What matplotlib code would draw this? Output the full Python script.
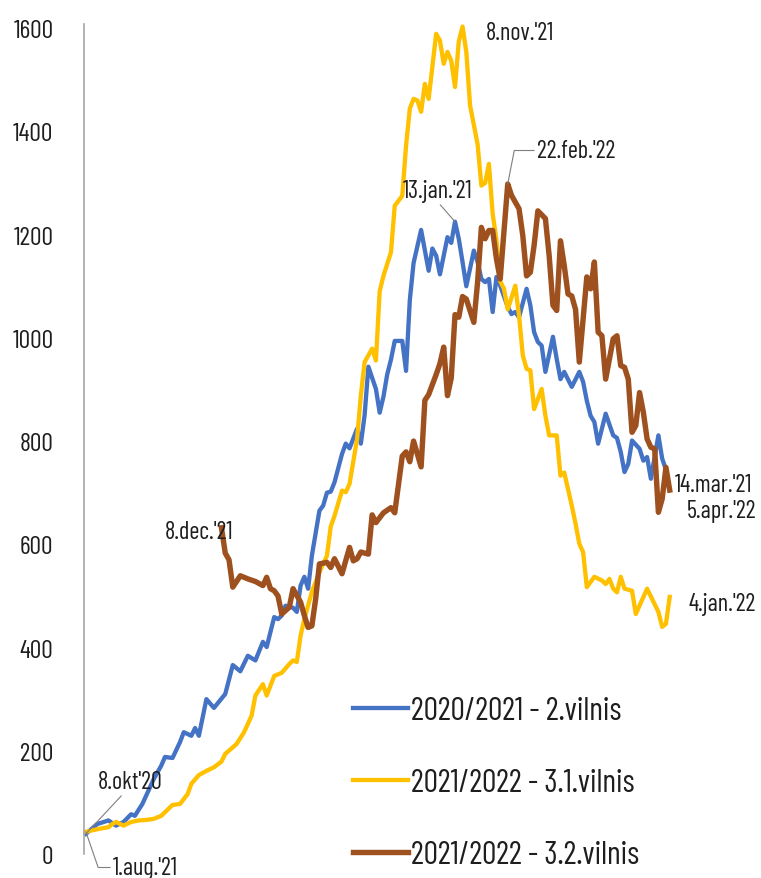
import matplotlib
matplotlib.use('agg')
import matplotlib.pyplot as plt
import numpy as np

plt.rcParams['font.family'] = ['Barlow Condensed', 'DejaVu Sans']
plt.rcParams['font.weight'] = 'normal'

# days since the start of each wave (2. vilnis starts 8.okt'20, 3.1 starts 1.aug.'21)
blue_day = [0, 3, 6, 8, 10, 12, 13, 15, 16, 18, 20, 21, 23, 25, 26, 28, 29, 30, 32, 34,
            37, 39, 41, 43, 45, 47, 48, 50, 51, 52, 53, 55, 56, 57, 58, 59, 60, 62, 63, 64,
            65, 66, 68, 69, 70, 72, 73, 74, 75, 77, 78, 79, 80, 81, 82, 84, 85, 86, 87, 89,
            91, 92, 93, 94, 96, 97, 98, 99, 100, 101, 103, 104, 105, 106, 107, 108, 109, 110, 112, 113,
            114, 115, 117, 118, 119, 120, 121, 122, 124, 125, 126, 127, 129, 131, 132, 133, 134, 135, 136, 138,
            140, 141, 142, 143, 144, 145, 147, 148, 149, 150, 152, 153, 154]
blue_val = [39, 58, 65, 55, 62, 77, 74, 97, 113, 145, 171, 188, 186, 217, 236, 229, 244, 229, 300, 283,
            310, 366, 354, 384, 375, 411, 401, 459, 455, 462, 481, 477, 469, 520, 537, 514, 578, 665, 675, 700,
            702, 720, 775, 795, 786, 824, 795, 850, 944, 901, 855, 886, 929, 958, 994, 994, 936, 1073, 1145, 1209,
            1130, 1173, 1159, 1123, 1195, 1184, 1225, 1192, 1147, 1100, 1169, 1147, 1114, 1108, 1114, 1050, 1118, 1101, 1060, 1046,
            1050, 1040, 1095, 1063, 1011, 992, 985, 934, 1002, 959, 920, 934, 905, 934, 915, 878, 849, 837, 795, 853,
            811, 806, 779, 740, 756, 801, 785, 762, 769, 727, 811, 766, 745]

yellow_day = [0, 3, 6, 7, 8, 10, 12, 14, 16, 18, 20, 21, 23, 25, 27, 28, 30, 32, 34, 36,
              37, 40, 42, 44, 45, 47, 48, 50, 52, 54, 55, 56, 57, 58, 60, 62, 64, 65, 66, 68,
              69, 70, 72, 73, 74, 76, 77, 78, 79, 81, 82, 84, 85, 86, 87, 88, 89, 90, 91, 93,
              94, 95, 96, 97, 98, 99, 100, 101, 102, 104, 105, 106, 107, 108, 109, 110, 111, 112, 114, 115,
              116, 117, 118, 119, 121, 122, 123, 125, 126, 127, 129, 130, 131, 132, 133, 135, 137, 138, 139, 140,
              141, 142, 143, 145, 146, 149, 152, 153, 154, 155]
yellow_val = [43, 48, 52, 58, 62, 55, 62, 65, 66, 68, 74, 81, 95, 97, 116, 136, 153, 161, 168, 179,
              194, 213, 236, 268, 307, 329, 307, 345, 351, 368, 375, 372, 423, 455, 508, 546, 578, 634, 655, 704,
              701, 717, 804, 888, 953, 979, 956, 1090, 1120, 1166, 1256, 1275, 1372, 1444, 1463, 1460, 1438, 1492, 1463, 1589,
              1576, 1531, 1554, 1537, 1486, 1574, 1603, 1554, 1450, 1375, 1295, 1300, 1337, 1240, 1190, 1110, 1095, 1055, 1101, 1043,
              966, 940, 937, 862, 901, 849, 811, 811, 733, 739, 675, 640, 601, 585, 517, 537, 530, 523, 533, 514,
              507, 537, 514, 510, 465, 514, 469, 440, 446, 498]

# 3.2 vilnis starts 8.dec.'21, placed on the same day axis
brown_day = [36, 37, 38, 39, 41, 43, 45, 47, 48, 49, 50, 51, 52, 54, 55, 57, 58, 59, 60, 61,
             62, 64, 65, 66, 68, 70, 71, 72, 73, 75, 76, 77, 79, 81, 82, 84, 85, 86, 87, 89,
             90, 91, 93, 94, 95, 96, 97, 98, 99, 100, 101, 103, 104, 105, 106, 107, 108, 109, 110, 112,
             113, 115, 116, 117, 118, 119, 120, 122, 123, 124, 125, 126, 127, 128, 129, 130, 131, 133, 134, 135,
             136, 137, 138, 140, 141, 142, 143, 144, 145, 146, 147, 148, 149, 150, 151, 152, 153, 154, 155]
brown_val = [632, 583, 570, 517, 539, 533, 528, 520, 536, 514, 510, 500, 465, 478, 514, 488, 462, 439, 442, 494,
             562, 565, 555, 572, 543, 594, 568, 572, 585, 581, 657, 642, 661, 671, 661, 771, 779, 760, 800, 750,
             879, 890, 929, 950, 982, 888, 922, 1045, 1040, 1080, 1075, 1030, 1108, 1214, 1192, 1208, 1208, 1153, 1114, 1298,
             1276, 1250, 1198, 1120, 1127, 1179, 1246, 1231, 1159, 1063, 1053, 1188, 1140, 1085, 1081, 1055, 953, 1118, 1095, 1147,
             1011, 1004, 920, 998, 1004, 946, 943, 920, 817, 830, 894, 856, 804, 788, 785, 662, 688, 749, 705]

labels = ['2020/2021 - 2.vilnis', '2021/2022 - 3.1.vilnis', '2021/2022 - 3.2.vilnis']
colors = ['#4472C4', '#FFC000', '#9E511E']
yticks = [0, 200, 400, 600, 800, 1000, 1200, 1400, 1600]

txt = '#1E1E1E'
H = 879

fig = plt.figure(figsize=(7.61, 8.79), dpi=100)
ax = fig.add_axes([84 / 761, 24 / 879, (681 - 84) / 761, (855 - 25) / 879])

lb, = ax.plot(blue_day, blue_val, color=colors[0], lw=3.1, label=labels[0], clip_on=False)
ly, = ax.plot(yellow_day, yellow_val, color=colors[1], lw=3.1, label=labels[1], clip_on=False)
lr, = ax.plot(brown_day, brown_val, color=colors[2], lw=3.9, label=labels[2], clip_on=False)

ax.set_xlim(-0.5, 158)
ax.set_ylim(0, 1608)
ax.set_yticks(yticks)
ax.set_yticklabels([str(t) for t in yticks], fontsize=18.5, color=txt)
ax.tick_params(axis='y', length=0, pad=22)
ax.set_xticks([])
for s in ['top', 'right', 'bottom']:
    ax.spines[s].set_visible(False)
ax.spines['left'].set_color('#A6A6A6')
ax.spines['left'].set_linewidth(1.2)

fs = 17.5
line = dict(arrowstyle='-', color='#7F7F7F', lw=0.8, shrinkA=0, shrinkB=0)

# peaks and ends
iy = int(np.argmax(yellow_val))
ib = int(np.argmax(blue_val))
ir = int(np.argmax(brown_val))

ax.annotate("8.nov.'21", xy=(yellow_day[iy], yellow_val[iy]), xytext=(486, H - 40),
            textcoords='figure pixels', fontsize=fs, color=txt, ha='left', va='baseline')
ax.annotate("22.feb.'22", xy=(brown_day[ir], brown_val[ir]), xytext=(537, H - 158),
            textcoords='figure pixels', fontsize=fs, color=txt, ha='left', va='baseline',
            arrowprops=dict(line, relpos=(0, 0.5), connectionstyle='angle,angleA=0,angleB=79,rad=0'))
ax.annotate("13.jan.'21", xy=(blue_day[ib], blue_val[ib]), xytext=(403, H - 198),
            textcoords='figure pixels', fontsize=fs, color=txt, ha='left', va='baseline',
            arrowprops=dict(line, relpos=(0.5, 0)))
ax.annotate("8.dec.'21", xy=(brown_day[0], brown_val[0]), xytext=(165, H - 539),
            textcoords='figure pixels', fontsize=fs, color=txt, ha='left', va='baseline')
ax.annotate("8.okt'20", xy=(blue_day[0], blue_val[0]), xytext=(98, H - 789),
            textcoords='figure pixels', fontsize=fs, color=txt, ha='left', va='baseline',
            arrowprops=dict(line, relpos=(0.4, 0)))
ax.annotate("1.aug.'21", xy=(yellow_day[0], yellow_val[0]), xytext=(113, H - 875),
            textcoords='figure pixels', fontsize=fs, color=txt, ha='left', va='baseline',
            arrowprops=dict(line, relpos=(0, 0.5), connectionstyle='angle,angleA=0,angleB=-71,rad=0'))
ax.annotate("14.mar.'21", xy=(blue_day[-1], blue_val[-1]), xytext=(675, H - 492),
            textcoords='figure pixels', fontsize=fs, color=txt, ha='left', va='baseline')
ax.annotate("5.apr.'22", xy=(brown_day[-1], brown_val[-1]), xytext=(756, H - 518),
            textcoords='figure pixels', fontsize=fs, color=txt, ha='right', va='baseline')
ax.annotate("4.jan.'22", xy=(yellow_day[-1], yellow_val[-1]), xytext=(756, H - 611),
            textcoords='figure pixels', fontsize=fs, color=txt, ha='right', va='baseline')

leg = fig.legend(handles=[lb, ly, lr], loc='lower left', bbox_to_anchor=(353 / 761, 8 / 879),
                 frameon=False, fontsize=23, handlelength=1.72, handletextpad=0.1,
                 labelspacing=1.31, borderpad=0, borderaxespad=0)
for t in leg.get_texts():
    t.set_color(txt)

fig.savefig('out.png', dpi=100)
